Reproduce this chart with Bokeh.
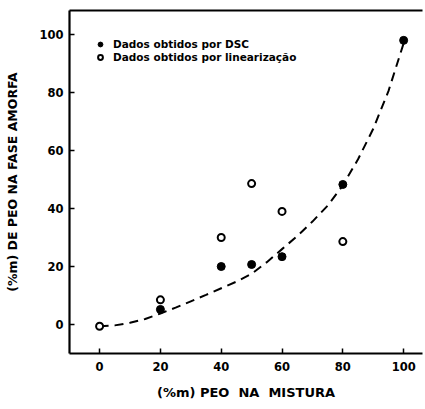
from bokeh.plotting import figure
from bokeh.models import Range1d, LinearAxis, FixedTicker, Legend, LegendItem
from bokeh.embed import file_html
from bokeh.resources import INLINE

# Data
dsc_x = [20, 40, 50, 60, 80, 100]
dsc_y = [5.2, 20, 20.7, 23.4, 48.3, 98]
lin_x = [0, 20, 40, 50, 60, 80]
lin_y = [-0.6, 8.5, 30, 48.6, 39, 28.6]
curve_x = [0, 5, 10, 15, 20, 25, 30, 35, 40, 45, 50, 55, 60, 65, 70, 75, 80, 85, 90, 95, 100]
curve_y = [-0.6, -0.3, 0.6, 1.9, 3.8, 5.8, 8.0, 10.2, 12.5, 14.8, 17.5, 21.5, 26.0, 30.5, 35.5, 41.0, 48.0, 57.0, 67.5, 80.5, 97.0]
x_ticks = [0, 20, 40, 60, 80, 100]
y_ticks = [0, 20, 40, 60, 80, 100]
x_label = "(%m)\u00a0PEO\u00a0\u00a0NA\u00a0\u00a0MISTURA"
y_label = "(%m) DE PEO NA FASE AMORFA"
legend_labels = ["Dados obtidos por DSC", "Dados obtidos por linearização"]

FONT = "DejaVu Sans"

p = figure(width=425, height=409, output_backend="svg", toolbar_location=None,
           x_range=Range1d(-9.9, 106.2), y_range=Range1d(-10, 108.3),
           min_border_left=69, min_border_right=3, min_border_top=10, min_border_bottom=56,
           x_axis_location=None, y_axis_location=None)
p.outline_line_color = None
p.grid.visible = False
p.background_fill_color = "white"
p.border_fill_color = "white"

def style_axis(ax):
    ax.axis_line_width = 2.2
    ax.axis_line_color = "black"
    ax.major_tick_in = 5
    ax.major_tick_out = 0
    ax.major_tick_line_width = 1.5
    ax.major_tick_line_color = "black"
    ax.minor_tick_line_color = None
    ax.major_label_text_font = FONT
    ax.major_label_text_font_style = "bold"
    ax.major_label_text_font_size = "11.5px"
    ax.major_label_text_color = "black"
    ax.axis_label_text_font = FONT
    ax.axis_label_text_font_style = "bold"
    ax.axis_label_text_font_size = "12.5px"
    ax.axis_label_text_color = "black"

xa = LinearAxis(ticker=FixedTicker(ticks=x_ticks), axis_label=x_label)
style_axis(xa)
xa.major_label_standoff = 8
xa.axis_label_standoff = 11
xa.axis_label_text_font_size = "13px"
p.add_layout(xa, "below")

ya = LinearAxis(ticker=FixedTicker(ticks=y_ticks), axis_label=y_label)
style_axis(ya)
ya.major_label_standoff = 6
ya.axis_label_standoff = 16
p.add_layout(ya, "left")

ta = LinearAxis(ticker=FixedTicker(ticks=[]))
ta.axis_line_width = 2.2
ta.axis_line_color = "black"
ta.major_label_text_font_size = "0px"
p.add_layout(ta, "above")

p.line(curve_x, curve_y, line_color="black", line_width=2, line_dash="9 6")
r_dsc = p.scatter(dsc_x, dsc_y, size=8, marker="circle", fill_color="black", line_color="black")
r_lin = p.scatter(lin_x, lin_y, size=7, marker="circle", fill_color="white", line_color="black", line_width=2)

legend = Legend(items=[LegendItem(label=legend_labels[0], renderers=[r_dsc]),
                       LegendItem(label=legend_labels[1], renderers=[r_lin])],
                location=(25, 290))
legend.border_line_color = None
legend.background_fill_alpha = 0
legend.glyph_width = 12
legend.glyph_height = 12
legend.label_height = 12
legend.spacing = 1
legend.padding = 0
legend.margin = 0
legend.label_standoff = 7
legend.label_text_font = FONT
legend.label_text_font_style = "bold"
legend.label_text_font_size = "10.5px"
legend.label_text_color = "black"
p.add_layout(legend, "center")

open("out.html", "w").write(file_html(p, INLINE))
